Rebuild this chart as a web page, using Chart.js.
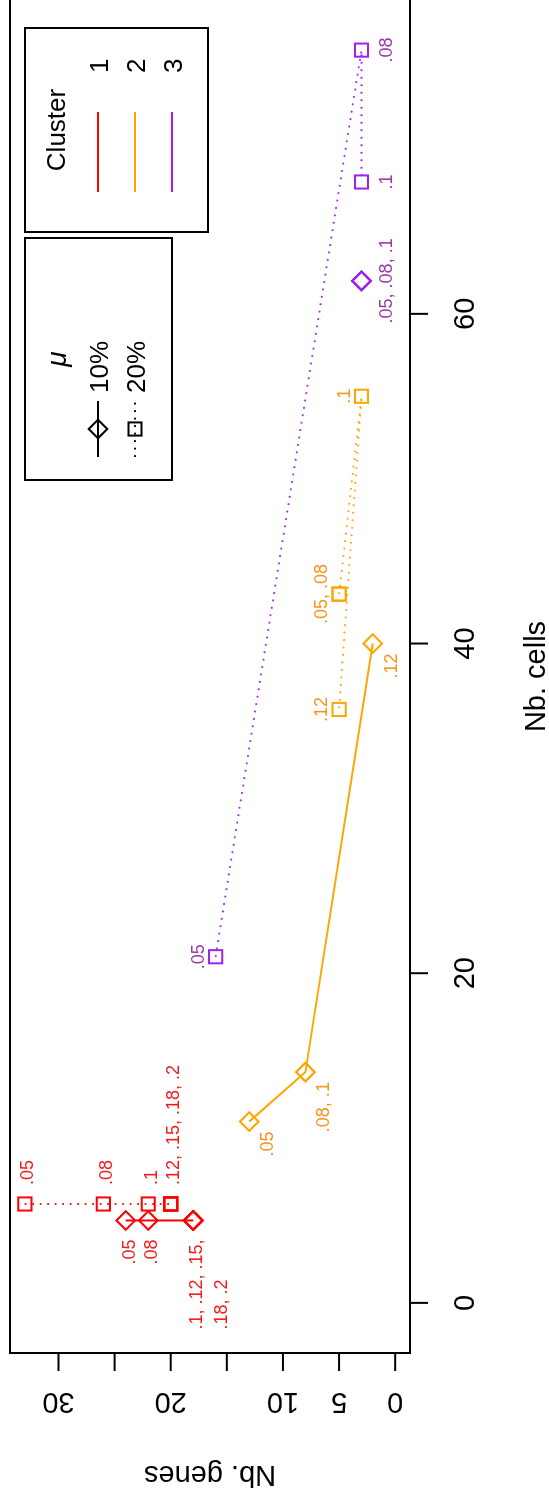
<!DOCTYPE html>
<html>
<head>
<meta charset="utf-8">
<script src="https://cdn.jsdelivr.net/npm/chart.js@4/dist/chart.umd.min.js"></script>
<style>
  html, body { margin: 0; padding: 0; background: #fff; overflow: hidden; }
  /* the figure is laid out landscape and turned a quarter turn counter-clockwise */
  #wrap {
    position: absolute; left: 0; top: 0;
    width: 1497px; height: 549px;
    transform-origin: 0 0;
    transform: translate(0, 1497px) rotate(-90deg);
  }
  canvas { display: block; }
</style>
</head>
<body>
<div id="wrap"><canvas id="chart" width="1497" height="549"></canvas></div>
<script>
// mu parameter values, in the order the points are joined
const params = ['.05', '.08', '.1', '.12', '.15', '.18', '.2'];
const muLevels = ['10%', '20%'];
const clusterNames = ['1', '2', '3'];

// Cluster 1
const c1Mu10Cells = [5, 5, 5, 5, 5, 5, 5];
const c1Mu10Genes = [24, 22, 18, 18, 18, 18, 18];
const c1Mu20Cells = [6, 6, 6, 6, 6, 6, 6];
const c1Mu20Genes = [33, 26, 22, 20, 20, 20, 20];
// Cluster 2 (params .05 to .12)
const c2Mu10Cells = [11, 14, 14, 40];
const c2Mu10Genes = [13, 8, 8, 2];
const c2Mu20Cells = [43, 43, 55, 36];
const c2Mu20Genes = [5, 5, 3, 5];
// Cluster 3 (params .05 to .1)
const c3Mu10Cells = [62, 62, 62];
const c3Mu10Genes = [3, 3, 3];
const c3Mu20Cells = [21, 76, 68];
const c3Mu20Genes = [16, 3, 3];

// axis ticks
const cellTicks = [0, 20, 40, 60];
const geneTicks = [0, 5, 10, 15, 20, 25, 30];
const geneTickLabels = ['0', '5', '10', '', '20', '', '30'];
const cellLimits = [0, 76];
const geneLimits = [0, 33];

// ---------- styling ----------
const FONT = '"Liberation Sans", Arial, Helvetica, sans-serif';
const markColors = ['#FF0000', '#FFA500', '#A020F0'];
const textColors = ['#F21C1C', '#F7941D', '#9A3AA6'];
const DOT_DASH = [1.8, 5.7];
const POINT_R = 9.3;

// label placement per dataset, one entry per distinct point (in order of first appearance)
const labelPlacement = {
  'c1-10': [{ pos: 'left' }, { pos: 'left' }, { pos: 'left', wrap: 3 }],
  'c1-20': [{ pos: 'right' }, { pos: 'right' }, { pos: 'right' }, { pos: 'right' }],
  'c2-10': [{ pos: 'belowleft' }, { pos: 'belowleft' }, { pos: 'belowleft' }],
  'c2-20': [{ pos: 'above' }, { pos: 'above' }, { pos: 'above' }],
  'c3-10': [{ pos: 'below' }],
  'c3-20': [{ pos: 'above' }, { pos: 'below' }, { pos: 'below' }]
};

function pts(cells, genes) {
  return cells.map((c, i) => ({ x: c, y: genes[i], p: params[i] }));
}

function series(key, cluster, mu, cells, genes) {
  const dotted = mu === 1;
  return {
    key, cluster,
    data: pts(cells, genes),
    showLine: true,
    borderColor: markColors[cluster],
    backgroundColor: 'rgba(0,0,0,0)',
    borderWidth: dotted ? 1.8 : 2,
    borderDash: dotted ? DOT_DASH : [],
    borderCapStyle: 'butt',
    pointStyle: mu === 0 ? 'rectRot' : 'rect',
    pointRadius: POINT_R,
    pointHoverRadius: POINT_R,
    pointBorderWidth: 2,
    pointBorderColor: markColors[cluster],
    pointBackgroundColor: 'rgba(0,0,0,0)',
    tension: 0
  };
}

const datasets = [
  series('c1-10', 0, 0, c1Mu10Cells, c1Mu10Genes),
  series('c1-20', 0, 1, c1Mu20Cells, c1Mu20Genes),
  series('c2-10', 1, 0, c2Mu10Cells, c2Mu10Genes),
  series('c2-20', 1, 1, c2Mu20Cells, c2Mu20Genes),
  series('c3-10', 2, 0, c3Mu10Cells, c3Mu10Genes),
  series('c3-20', 2, 1, c3Mu20Cells, c3Mu20Genes)
];

// R-style 4% range extension
function extend(lim) {
  const d = (lim[1] - lim[0]) * 0.04;
  return [lim[0] - d, lim[1] + d];
}
const xr = extend(cellLimits);
const yr = extend(geneLimits);

// ---------- helpers ----------
function symbol(ctx, style, x, y, r) {
  ctx.beginPath();
  if (style === 'rectRot') {
    ctx.moveTo(x - r, y); ctx.lineTo(x, y - r); ctx.lineTo(x + r, y); ctx.lineTo(x, y + r);
  } else {
    const s = r * Math.SQRT1_2;
    ctx.rect(x - s, y - s, 2 * s, 2 * s);
  }
  ctx.closePath();
  ctx.stroke();
}

function seg(ctx, x1, y1, x2, y2) {
  ctx.beginPath(); ctx.moveTo(x1, y1); ctx.lineTo(x2, y2); ctx.stroke();
}

// ---------- point labels ----------
const pointLabels = {
  id: 'pointLabels',
  afterDatasetsDraw(chart) {
    const ctx = chart.ctx;
    ctx.save();
    ctx.font = '18px ' + FONT;
    ctx.textBaseline = 'alphabetic';
    chart.data.datasets.forEach((ds, di) => {
      const meta = chart.getDatasetMeta(di);
      const groups = [];
      ds.data.forEach((d, i) => {
        let g = groups.find(g => g.x === d.x && g.y === d.y);
        if (!g) { g = { x: d.x, y: d.y, idx: i, ps: [] }; groups.push(g); }
        g.ps.push(d.p);
      });
      const place = labelPlacement[ds.key];
      ctx.fillStyle = textColors[ds.cluster];
      groups.forEach((g, gi) => {
        const el = meta.data[g.idx];
        const px = el.x, py = el.y;
        const pl = place[gi];
        let lines = [g.ps.join(', ')];
        if (pl.wrap && g.ps.length > pl.wrap) {
          lines = [g.ps.slice(0, pl.wrap).join(', ') + ',', g.ps.slice(pl.wrap).join(', ')];
        }
        const widths = lines.map(l => ctx.measureText(l).width);
        const w = Math.max(...widths);
        lines.forEach((l, li) => {
          const lh = li * 25;
          let tx, ty;
          if (pl.pos === 'right') { tx = px + 19; ty = py + 8.5 + lh; }
          else if (pl.pos === 'left') { tx = px - 19 - w; ty = py + 9 + lh; }
          else if (pl.pos === 'above') { tx = px - widths[li] / 2; ty = py - 11.7 + lh; }
          else if (pl.pos === 'below') { tx = px - widths[li] / 2; ty = py + 30 + lh; }
          else { tx = px - 10 - w; ty = py + 24 + lh; }
          ctx.textAlign = 'left';
          ctx.fillText(l, tx, ty);
        });
      });
    });
    ctx.restore();
  }
};

// ---------- frame, axes, titles, legends ----------
const frame = {
  id: 'frame',
  afterDraw(chart) {
    const { ctx, chartArea: a, scales: { x, y } } = chart;
    ctx.save();
    ctx.strokeStyle = '#000';
    ctx.fillStyle = '#000';
    ctx.lineWidth = 2;
    ctx.setLineDash([]);
    ctx.strokeRect(a.left, a.top, a.right + 2 - a.left, a.bottom - a.top);

    const TL = 18;
    ctx.font = '29px ' + FONT;
    ctx.textBaseline = 'alphabetic';
    ctx.textAlign = 'center';
    cellTicks.forEach(v => {
      const px = x.getPixelForValue(v);
      seg(ctx, px, a.bottom, px, a.bottom + TL);
      ctx.fillText(String(v), px, 474);
    });
    ctx.fillText('Nb. cells', (a.left + a.right) / 2, 545);

    geneTicks.forEach((v, i) => {
      const py = y.getPixelForValue(v);
      seg(ctx, a.left, py, a.left - TL, py);
      if (geneTickLabels[i]) {
        ctx.save();
        ctx.translate(104, py);
        ctx.rotate(-Math.PI / 2);
        ctx.fillText(geneTickLabels[i], 0, 0);
        ctx.restore();
      }
    });
    ctx.save();
    ctx.translate(31, (a.top + a.bottom) / 2);
    ctx.rotate(-Math.PI / 2);
    ctx.fillText('Nb. genes', 0, 0);
    ctx.restore();

    const LEG_FONT = '26px ' + FONT;

    // legend: mu
    const L1 = { l: 1017, r: 1259, t: 25, b: 172 };
    ctx.strokeRect(L1.l, L1.t, L1.r - L1.l, L1.b - L1.t);
    ctx.font = 'italic 28px ' + FONT;
    ctx.textAlign = 'center';
    ctx.fillText('\u03bc', (L1.l + L1.r) / 2, 66);
    ctx.font = LEG_FONT;
    ctx.textAlign = 'left';
    const rows1 = [98, 135];
    muLevels.forEach((m, i) => {
      const ry = rows1[i];
      ctx.setLineDash(i === 1 ? DOT_DASH : []);
      ctx.lineWidth = i === 1 ? 1.8 : 2;
      seg(ctx, 1040, ry, 1096, ry);
      ctx.setLineDash([]);
      ctx.lineWidth = 2;
      symbol(ctx, i === 0 ? 'rectRot' : 'rect', 1068, ry, POINT_R);
      ctx.fillText(m, 1104, ry + 9.5);
    });

    // legend: cluster
    const L2 = { l: 1265, r: 1469, t: 25, b: 208 };
    ctx.strokeStyle = '#000';
    ctx.strokeRect(L2.l, L2.t, L2.r - L2.l, L2.b - L2.t);
    ctx.textAlign = 'center';
    ctx.fillText('Cluster', (L2.l + L2.r) / 2, 65);
    ctx.textAlign = 'left';
    const rows2 = [98, 135, 172];
    clusterNames.forEach((c, i) => {
      ctx.strokeStyle = markColors[i];
      seg(ctx, 1305, rows2[i], 1385, rows2[i]);
      ctx.fillText(c, 1424, rows2[i] + 9.5);
    });
    ctx.restore();
  }
};

new Chart(document.getElementById('chart'), {
  type: 'scatter',
  data: { datasets },
  options: {
    responsive: false,
    animation: false,
    devicePixelRatio: 1,
    layout: { autoPadding: false, padding: { left: 144, right: 0, top: 10, bottom: 139 } },
    scales: {
      x: { type: 'linear', min: xr[0], max: xr[1], display: false },
      y: { type: 'linear', min: yr[0], max: yr[1], display: false }
    },
    plugins: { legend: { display: false }, tooltip: { enabled: false } },
    elements: { line: { fill: false } }
  },
  plugins: [pointLabels, frame]
});
</script>
</body>
</html>
